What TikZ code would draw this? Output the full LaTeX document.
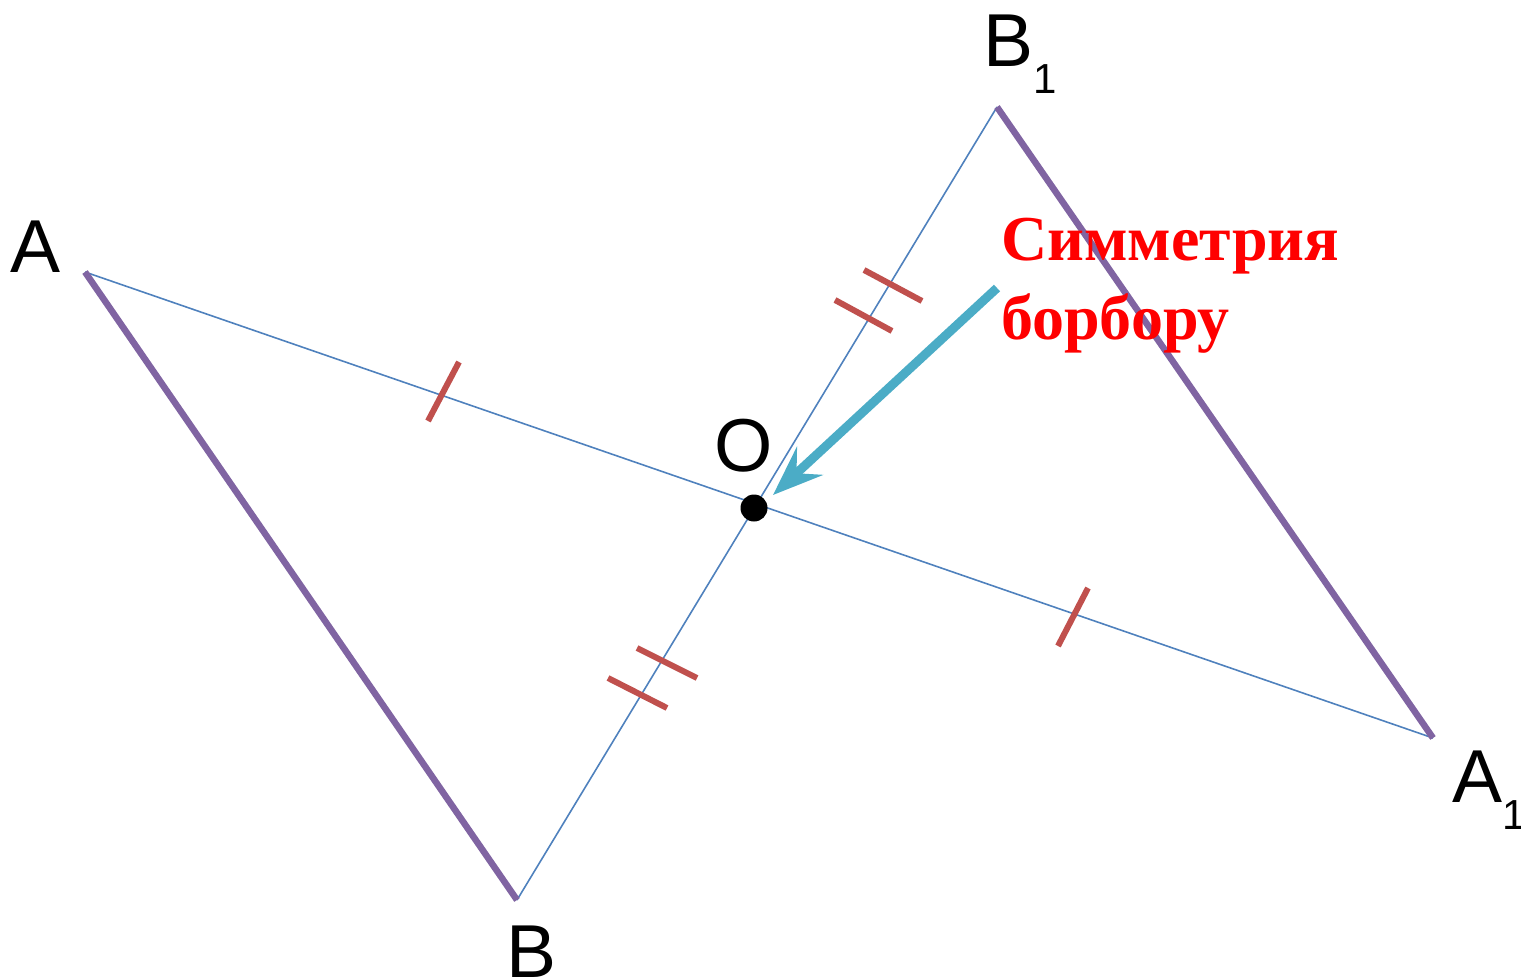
\documentclass[tikz,border=0pt]{standalone}
\usepackage{fontspec}
\setmainfont{Liberation Sans}
\newfontfamily\redserif{Liberation Serif}
\usetikzlibrary{arrows.meta}
\definecolor{segblue}{HTML}{4F81BD}
\definecolor{sidepurple}{HTML}{8064A2}
\definecolor{tickred}{HTML}{C0504D}
\definecolor{arrteal}{HTML}{4BACC6}
\tikzset{
  thinseg/.style={draw=segblue, line width=1.6pt},
  sideseg/.style={draw=sidepurple, line width=6.5pt},
  tickseg/.style={draw=tickred, line width=6pt},
  ptlabel/.style={font=\fontsize{75}{75}\selectfont, inner sep=0pt, anchor=base west},
}
\newcommand{\subone}{\raisebox{-27pt}{\fontsize{42}{42}\selectfont 1}}
\begin{document}
\begin{tikzpicture}[x=1pt,y=-1pt]
\useasboundingbox (0,0) rectangle (1521,979);
\coordinate (A) at (85,272);
\coordinate (B) at (517,900);
\coordinate (B1) at (997,107);
\coordinate (A1) at (1433,738);
\coordinate (O) at (754,508);
% thin segments
\draw[thinseg] (A) -- (A1);
\draw[thinseg] (B) -- (B1);
% sides
\draw[sideseg] (A) -- (B);
\draw[sideseg] (B1) -- (A1);
% ticks
\coordinate (t1a) at (428,421); \coordinate (t1b) at (459,362);
\coordinate (t2a) at (1058,646); \coordinate (t2b) at (1088,588);
\coordinate (t3a) at (835,300); \coordinate (t3b) at (892,331);
\coordinate (t4a) at (864,270); \coordinate (t4b) at (922,301);
\coordinate (t5a) at (608,678); \coordinate (t5b) at (667,708);
\coordinate (t6a) at (637,648); \coordinate (t6b) at (697,678);
\draw[tickseg] (t1a) -- (t1b);
\draw[tickseg] (t2a) -- (t2b);
\draw[tickseg] (t3a) -- (t3b);
\draw[tickseg] (t4a) -- (t4b);
\draw[tickseg] (t5a) -- (t5b);
\draw[tickseg] (t6a) -- (t6b);
% centre dot
\fill[black] (O) circle (13.5);
% labels
\node[ptlabel] (lA) at (10,272) {A};
\node[ptlabel] (lB) at (506,977) {B};
\node[ptlabel] (lB1) at (983,67) {B\subone};
\node[ptlabel] (lA1) at (1452,802) {A\subone};
\node[ptlabel] (lO) at (714,471) {O};
% arrow
\coordinate (arrstart) at (997,288);
\coordinate (arrtip) at (773,495);
\draw[draw=arrteal, line width=9pt, -{Stealth[length=50, width=38, inset=18]}] (arrstart) -- (arrtip);
% text
\node[anchor=north west, align=left, text=red, inner sep=0pt,
      font=\redserif\bfseries\fontsize{64}{79}\selectfont] (note) at (1001,218)
      {Симметрия\\борбору};
\end{tikzpicture}
\end{document}
